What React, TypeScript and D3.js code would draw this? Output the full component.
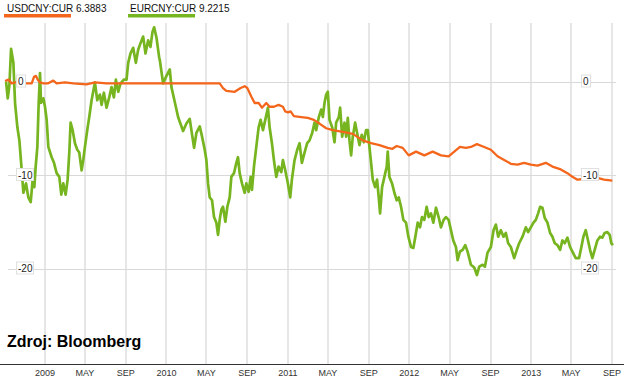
import React from "react";
import * as d3 from "d3";

// Days since 2009-01-01 and % change since start of period
const usdDays = [-120,-110,-100,-90,-75,-55,-40,-33,-27,-22,-15,-5,10,25,35,60,85,125,150,185,264,345,435,525,535,545,570,588,600,608,620,630,642,652,665,675,688,702,715,722,730,738,748,770,790,808,825,845,865,895,925,955,980,1005,1030,1044,1057,1075,1093,1115,1140,1165,1190,1213,1230,1247,1265,1280,1298,1320,1340,1360,1380,1400,1420,1440,1460,1480,1505,1525,1550,1570,1585,1600,1629,1660,1680,1705];
const usdVals = [0.05,0.2,-0.2,-0.1,-0.1,-0.2,-0.2,0.5,0.6,0.2,-0.1,-0.2,-0.2,0.1,-0.2,-0.1,-0.2,-0.3,-0.1,-0.2,-0.2,-0.2,-0.2,-0.2,-0.7,-1.0,-1.1,-0.7,-0.5,-0.7,-1.6,-2.3,-2.3,-2.8,-2.3,-2.7,-2.7,-2.5,-2.7,-3.2,-3.3,-3.2,-3.7,-3.8,-3.9,-4.1,-4.5,-5.0,-5.2,-5.4,-5.6,-6.3,-6.6,-6.8,-7.1,-7.2,-6.9,-7.1,-7.9,-7.5,-7.9,-7.5,-7.9,-8.0,-7.5,-7.0,-7.1,-7.0,-6.7,-7.0,-7.3,-8.0,-8.4,-8.8,-8.9,-8.7,-8.9,-9.0,-8.7,-9.1,-9.4,-9.8,-10.2,-10.5,-10.4,-10.3,-10.5,-10.6];

const eurDays = [-117,-112,-107,-102,-95,-90,-83,-77,-70,-65,-57,-50,-43,-37,-32,-28,-23,-19,-15,-12,-5,0,5,10,20,27,35,43,49,55,62,68,73,77,83,90,97,103,110,115,120,127,133,140,150,157,165,170,177,185,193,200,207,213,220,227,237,245,250,257,265,273,280,287,295,302,310,317,323,328,335,343,345,355,365,375,380,390,400,405,415,425,435,440,448,455,465,472,480,485,490,495,502,508,515,520,525,530,535,542,548,555,560,568,575,580,585,592,600,605,612,618,622,628,635,642,648,655,662,670,675,682,688,695,702,710,715,722,730,737,742,750,758,765,772,780,788,795,803,810,815,823,830,835,840,845,850,855,863,870,875,883,887,893,900,905,910,915,920,925,932,938,945,952,958,965,970,975,980,985,992,998,1003,1007,1013,1020,1027,1030,1035,1043,1050,1057,1063,1070,1077,1085,1092,1100,1107,1113,1120,1127,1133,1140,1147,1153,1160,1167,1175,1183,1190,1198,1205,1213,1220,1227,1235,1240,1247,1255,1263,1270,1280,1290,1298,1305,1315,1322,1330,1340,1348,1355,1362,1370,1378,1385,1392,1400,1410,1418,1425,1435,1445,1452,1460,1468,1475,1482,1488,1495,1502,1510,1518,1525,1532,1540,1548,1555,1562,1570,1578,1585,1595,1605,1612,1618,1625,1632,1638,1645,1652,1660,1668,1675,1682,1690,1697,1702,1707];
const eurVals = [0.0,-1.8,-0.4,3.5,2.0,-2.3,-4.9,-6.3,-9.5,-11.9,-10.9,-12.4,-12.9,-10.5,-11.3,-9.1,-7.0,-2.3,0.9,-2.3,-1.8,-2.7,-4.1,-7.0,-8.1,-8.7,-9.8,-10.2,-12.1,-10.9,-12.1,-10.5,-7.6,-4.4,-5.2,-6.6,-7.3,-7.6,-9.5,-8.4,-7.0,-5.2,-3.8,-2.0,-0.1,-2.0,-1.4,-2.5,-1.2,-2.8,-1.7,-0.6,-1.7,0.2,-1.1,-0.2,0.2,0.2,2.0,3.0,3.6,2.0,3.4,4.1,4.8,3.0,4.4,3.7,5.3,5.8,4.7,2.6,2.3,-0.2,0.6,1.3,-0.6,-2.2,-3.8,-4.3,-5.3,-4.5,-4.0,-5.2,-7.1,-5.5,-4.8,-5.9,-7.3,-8.4,-10.9,-12.4,-12.7,-14.5,-15.1,-16.4,-14.8,-13.7,-13.4,-15.0,-13.4,-12.4,-10.2,-9.8,-8.7,-8.1,-9.8,-10.9,-11.9,-10.9,-11.8,-10.2,-11.6,-9.1,-7.0,-4.9,-4.1,-5.2,-4.1,-2.8,-4.9,-6.6,-8.4,-10.2,-9.1,-9.7,-8.4,-9.5,-10.9,-12.4,-10.5,-8.4,-7.3,-6.6,-8.7,-7.6,-6.6,-6.3,-5.5,-4.4,-5.2,-3.8,-3.0,-3.8,-2.3,-1.4,-1.1,-4.1,-4.9,-6.5,-4.4,-3.8,-2.8,-5.9,-4.4,-5.9,-3.9,-6.3,-7.9,-5.9,-4.4,-5.5,-6.8,-5.7,-6.5,-5.2,-5.2,-7.0,-8.7,-10.5,-11.3,-10.5,-12.4,-14.1,-11.3,-10.2,-9.1,-7.5,-10.2,-10.9,-11.9,-12.7,-12.4,-13.4,-14.8,-15.1,-16.6,-17.7,-17.8,-16.6,-15.1,-15.6,-14.5,-14.8,-13.4,-14.5,-14.1,-15.1,-13.5,-14.5,-15.6,-14.8,-14.5,-14.8,-15.9,-17.0,-17.7,-19.1,-18.2,-18.0,-17.5,-18.2,-19.6,-19.9,-20.7,-19.8,-19.6,-19.8,-18.3,-17.7,-15.9,-15.3,-16.6,-15.9,-16.6,-16.2,-17.3,-17.7,-18.9,-18.0,-17.3,-16.6,-15.6,-16.1,-15.6,-15.1,-14.8,-14.1,-13.4,-13.5,-14.6,-15.1,-16.2,-16.6,-17.3,-17.5,-18.0,-17.0,-17.3,-16.7,-17.7,-18.2,-18.9,-18.9,-17.7,-16.6,-15.9,-17.0,-18.0,-18.9,-18.0,-17.0,-16.6,-16.7,-16.2,-16.1,-16.4,-17.3,-17.5];

const tickDates = [
  [2009, 0], [2009, 4], [2009, 8], [2010, 0], [2010, 4], [2010, 8],
  [2011, 0], [2011, 4], [2011, 8], [2012, 0], [2012, 4], [2012, 8],
  [2013, 0], [2013, 4], [2013, 8],
];
const tickLabels = ["2009","MAY","SEP","2010","MAY","SEP","2011","MAY","SEP","2012","MAY","SEP","2013","MAY","SEP"];
const yTicks = [0, -10, -20];
const legendItems = ["USDCNY:CUR 6.3883", "EURCNY:CUR 9.2215"];

const ORANGE = "#f4661b";
const GREEN = "#76b51f";

const base = new Date(2009, 0, 1);
const toDate = (d: number) => d3.timeDay.offset(base, d);

export default function App() {
  const W = 624, H = 379;
  const x = d3.scaleTime().domain([new Date(2009, 0, 1), new Date(2013, 8, 1)]).range([45, 612]);
  const y = d3.scaleLinear().domain([0, -20]).range([81.5, 268.5]);

  const usd = usdDays.map((d, i) => ({ t: toDate(d), v: usdVals[i] }));
  const eur = eurDays.map((d, i) => ({ t: toDate(d), v: eurVals[i] }));
  const line = d3.line<{ t: Date; v: number }>().x(p => x(p.t)).y(p => y(p.v));

  const font = "'Liberation Sans', Arial, sans-serif";

  return (
    <svg width={W} height={H} style={{ position: "absolute", left: 0, top: 0, background: "#fff" }}>
      <rect x={0} y={0} width={W} height={H} fill="#fff" />
      {tickDates.map(([yr, m], i) => {
        const xx = Math.round(x(new Date(yr, m, 1)));
        return <line key={"g" + i} x1={xx} x2={xx} y1={23} y2={364} stroke="#e6e6e6" strokeWidth={2} />;
      })}
      {yTicks.map(t => (
        <line key={"h" + t} x1={8} x2={616} y1={Math.round(y(t)) + 0.5} y2={Math.round(y(t)) + 0.5} stroke="#d9d9d9" strokeWidth={1} />
      ))}
      <path d={line(eur) || ""} fill="none" stroke={GREEN} strokeWidth={2.7} strokeLinejoin="round" />
      <path d={line(usd) || ""} fill="none" stroke={ORANGE} strokeWidth={2.3} strokeLinejoin="round" />
      {yTicks.map(t => {
        const label = String(t);
        const w = label.length === 1 ? 9 : 17;
        const yy = y(t);
        return (
          <g key={"yl" + t}>
            <rect x={16.5} y={yy - 6.5} width={w} height={12} fill="#fff" stroke="#e0e0e0" />
            <text x={18} y={yy + 3.5} fontSize={10} fontFamily={font} fill="#222">{label}</text>
            <rect x={581.5} y={yy - 6.5} width={w} height={12} fill="#fff" stroke="#e0e0e0" />
            <text x={583} y={yy + 3.5} fontSize={10} fontFamily={font} fill="#222">{label}</text>
          </g>
        );
      })}
      <line x1={0} x2={W} y1={364.5} y2={364.5} stroke="#333" strokeWidth={1.2} />
      {tickDates.map(([yr, m], i) => (
        <text key={"tl" + i} x={x(new Date(yr, m, 1))} y={376} fontSize={9} fontFamily={font} fill="#333" textAnchor="middle">
          {tickLabels[i]}
        </text>
      ))}
      <text x={7} y={12} fontSize={10} fontFamily={font} fill="#111">{legendItems[0]}</text>
      <rect x={4} y={14} width={67} height={3.5} fill={ORANGE} />
      <text x={130} y={12} fontSize={10} fontFamily={font} fill="#111">{legendItems[1]}</text>
      <rect x={128} y={14} width={67} height={3.5} fill={GREEN} />
      <text x={7} y={347} fontSize={16} fontWeight="bold" fontFamily={font} fill="#000">Zdroj: Bloomberg</text>
    </svg>
  );
}
